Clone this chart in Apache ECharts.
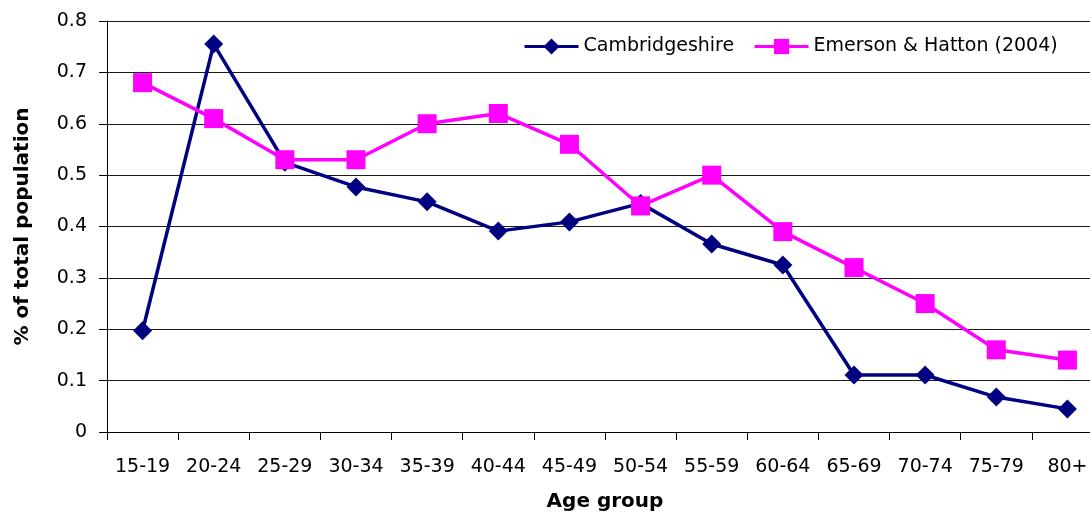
<!DOCTYPE html>
<html>
<head>
<meta charset="utf-8">
<script src="https://cdn.jsdelivr.net/npm/echarts@6/dist/echarts.min.js"></script>
<style>
  html, body { margin: 0; padding: 0; background: #ffffff; overflow: hidden; }
  #chart { width: 1090px; height: 513px; }
</style>
</head>
<body>
<div id="chart"></div>
<script>
// Age bands on the horizontal axis
const ageGroups = ['15-19', '20-24', '25-29', '30-34', '35-39', '40-44', '45-49',
                   '50-54', '55-59', '60-64', '65-69', '70-74', '75-79', '80+'];

// Share of total population (%) in each age band
const cambridgeshire = [0.197, 0.755, 0.525, 0.477, 0.448, 0.391, 0.409,
                        0.445, 0.366, 0.325, 0.111, 0.111, 0.068, 0.045];
const emersonHatton = [0.68, 0.61, 0.53, 0.53, 0.60, 0.62, 0.56,
                       0.44, 0.50, 0.39, 0.32, 0.25, 0.16, 0.14];

// Value axis range and step
const yMin = 0;
const yMax = 0.8;
const yStep = 0.1;

const FONT = 'DejaVu Sans';
const chart = echarts.init(document.getElementById('chart'), null, { renderer: 'canvas' });

chart.setOption({
  animation: false,
  backgroundColor: '#ffffff',
  textStyle: { fontFamily: FONT },
  // plot area runs slightly past the right edge of the canvas
  grid: {
    left: 107, top: 21, width: 996, height: 411,
    containLabel: false,
    outerBoundsMode: 'none'
  },
  legend: [
    {
      data: ['Cambridgeshire'],
      left: 523, top: 37, padding: 0,
      itemWidth: 54, itemHeight: 20,
      lineStyle: { width: 3 },
      textStyle: { fontFamily: FONT, fontSize: 19, color: '#000' }
    },
    {
      data: ['Emerson & Hatton (2004)'],
      left: 753, top: 37, padding: 0,
      itemWidth: 54, itemHeight: 19,
      lineStyle: { width: 3 },
      textStyle: { fontFamily: FONT, fontSize: 19, color: '#000' }
    }
  ],
  xAxis: {
    type: 'category',
    data: ageGroups,
    boundaryGap: true,
    name: 'Age group',
    nameLocation: 'middle',
    nameGap: 60,
    nameTextStyle: { fontFamily: FONT, fontSize: 20, fontWeight: 'bold', color: '#000' },
    axisLine: { lineStyle: { color: '#000', width: 1 } },
    axisTick: { show: true, alignWithLabel: false, length: 8, inside: false, lineStyle: { color: '#000' } },
    axisLabel: { fontFamily: FONT, fontSize: 19, color: '#000', margin: 26, interval: 0 },
    splitLine: { show: false }
  },
  yAxis: {
    type: 'value',
    min: yMin,
    max: yMax,
    interval: yStep,
    name: '% of total population',
    nameLocation: 'middle',
    nameGap: 74,
    nameTextStyle: { fontFamily: FONT, fontSize: 20, fontWeight: 'bold', color: '#000' },
    axisLine: { show: true, lineStyle: { color: '#000', width: 1 } },
    axisTick: { show: true, length: 8, inside: false, lineStyle: { color: '#000' } },
    axisLabel: { fontFamily: FONT, fontSize: 19, color: '#000', margin: 20 },
    splitLine: { show: true, lineStyle: { color: '#1a1a1a', width: 1 } }
  },
  series: [
    {
      name: 'Cambridgeshire',
      type: 'line',
      data: cambridgeshire,
      symbol: 'diamond',
      symbolSize: 19,
      showAllSymbol: true,
      color: '#000080',
      itemStyle: { color: '#000080' },
      lineStyle: { color: '#000080', width: 3.5 }
    },
    {
      name: 'Emerson & Hatton (2004)',
      type: 'line',
      data: emersonHatton,
      symbol: 'rect',
      symbolSize: 19,
      showAllSymbol: true,
      color: '#ff00ff',
      itemStyle: { color: '#ff00ff' },
      lineStyle: { color: '#ff00ff', width: 3.5 }
    }
  ]
});
</script>
</body>
</html>
